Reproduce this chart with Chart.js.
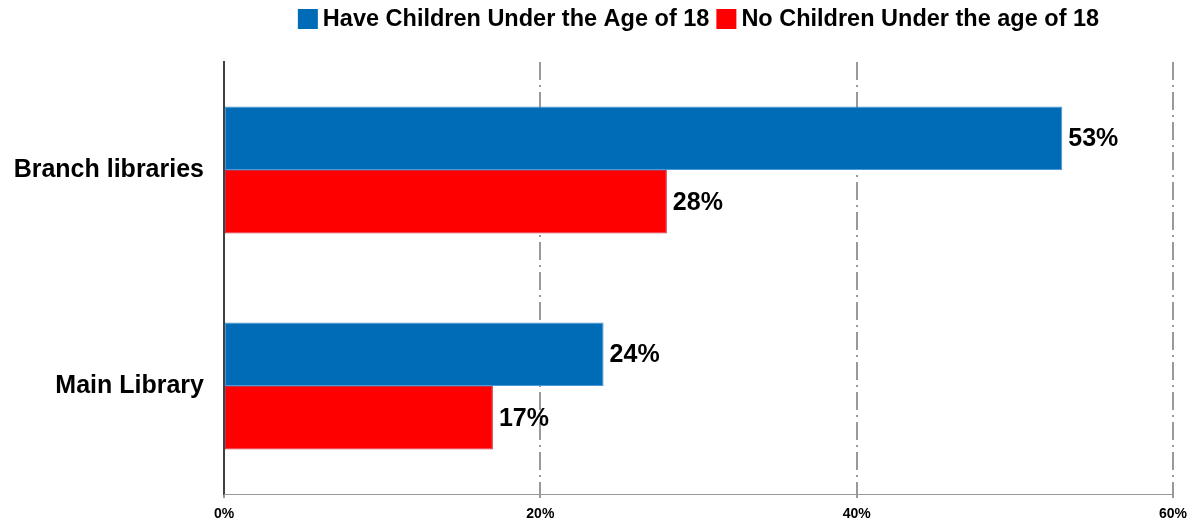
<!DOCTYPE html>
<html>
<head>
<meta charset="utf-8">
<title>Library use by households</title>
<script src="https://cdn.jsdelivr.net/npm/chart.js@4/dist/chart.umd.min.js"></script>
<style>
  body { margin: 0; background: #fff; }
  #wrap { width: 1201px; height: 529px; }
</style>
</head>
<body>
<div id="wrap"><canvas id="libraryChart" width="1201" height="529"></canvas></div>
<script>
// values
const categories = ['Branch libraries', 'Main Library'];
const haveChildren = [53, 24];
const noChildren = [28, 17];
const seriesNames = ['Have Children Under the Age of 18', 'No Children Under the age of 18'];
const xTicks = [0, 20, 40, 60];

const FONT = '"Liberation Sans", Arial, Helvetica, sans-serif';

// legend drawn by hand so the box/text gaps match the original
const topLegend = {
    id: 'topLegend',
    afterDraw(chart) {
        const ctx = chart.ctx;
        const area = chart.chartArea;
        ctx.save();
        ctx.font = 'bold 23.5px ' + FONT;
        ctx.textBaseline = 'middle';
        ctx.textAlign = 'left';
        const box = 20, gap = 5, itemGap = 7;
        const items = chart.data.datasets.map(ds => ({
            text: ds.label,
            color: ds.backgroundColor,
            w: box + gap + ctx.measureText(ds.label).width
        }));
        let total = items.reduce((s, it) => s + it.w, 0) + itemGap * (items.length - 1);
        let x = (area.left + area.right) / 2 - total / 2;
        items.forEach(it => {
            ctx.fillStyle = it.color;
            ctx.fillRect(x, 9, box, box);
            ctx.fillStyle = '#000';
            ctx.fillText(it.text, x + box + gap, 20);
            x += it.w + itemGap;
        });
        ctx.restore();
    }
};

// percentage labels at the end of every bar
const barLabels = {
    id: 'barLabels',
    afterDatasetsDraw(chart) {
        const ctx = chart.ctx;
        ctx.save();
        ctx.font = 'bold 25px ' + FONT;
        ctx.fillStyle = '#000';
        ctx.textAlign = 'left';
        ctx.textBaseline = 'middle';
        chart.data.datasets.forEach((ds, i) => {
            chart.getDatasetMeta(i).data.forEach((bar, j) => {
                ctx.fillText(ds.data[j] + '%', bar.x + 6, bar.y + 1);
            });
        });
        ctx.restore();
    }
};

// solid bottom axis line (the x border is switched off because its dash setting styles the grid)
const bottomAxis = {
    id: 'bottomAxis',
    beforeDatasetsDraw(chart) {
        const ctx = chart.ctx;
        const a = chart.chartArea;
        ctx.save();
        ctx.strokeStyle = '#999999';
        ctx.lineWidth = 1;
        ctx.beginPath();
        ctx.moveTo(a.left, a.bottom + 0.5);
        ctx.lineTo(a.right + 1, a.bottom + 0.5);
        ctx.stroke();
        ctx.restore();
    }
};

const ctx = document.getElementById('libraryChart').getContext('2d');

const libraryChart = new Chart(ctx, {
    type: 'bar',
    data: {
        labels: categories,
        datasets: [{
            label: seriesNames[0],
            data: haveChildren,
            backgroundColor: '#006bb6',
            borderColor: '#4a98d4',
            borderWidth: 1,
            borderSkipped: false,
            categoryPercentage: 0.587,
            barPercentage: 1.0
        }, {
            label: seriesNames[1],
            data: noChildren,
            backgroundColor: '#ff0000',
            borderColor: '#c0304a',
            borderWidth: 1,
            borderSkipped: false,
            categoryPercentage: 0.587,
            barPercentage: 1.0
        }]
    },
    options: {
        indexAxis: 'y',
        responsive: false,
        animation: false,
        devicePixelRatio: 1,
        layout: {
            padding: { top: 62, right: 28, bottom: 0, left: 0 }
        },
        plugins: {
            legend: { display: false },
            tooltip: { enabled: false }
        },
        scales: {
            x: {
                min: 0,
                max: 60,
                afterBuildTicks(scale) {
                    scale.ticks = xTicks.map(v => ({ value: v }));
                },
                afterFit(scale) {
                    scale.height = 31;
                },
                grid: {
                    color: c => (c.tick && c.tick.value === 0) ? 'rgba(0,0,0,0)' : '#999999',
                    lineWidth: 2,
                    drawTicks: true,
                    tickLength: 4,
                    tickColor: '#999999',
                    tickWidth: 2,
                    tickBorderDash: []
                },
                border: {
                    display: false,
                    dash: [18, 5, 2, 5]
                },
                ticks: {
                    padding: 8,
                    color: '#000',
                    font: { family: FONT, size: 14, weight: 'bold' },
                    callback: v => v + '%'
                }
            },
            y: {
                z: 1,
                afterFit(scale) {
                    scale.width = 224;
                },
                grid: { display: false, drawTicks: false },
                border: {
                    display: true,
                    color: '#404040',
                    width: 2
                },
                ticks: {
                    padding: 20,
                    color: '#000',
                    font: { family: FONT, size: 25, weight: 'bold' }
                }
            }
        }
    },
    plugins: [topLegend, barLabels, bottomAxis]
});
</script>
</body>
</html>
